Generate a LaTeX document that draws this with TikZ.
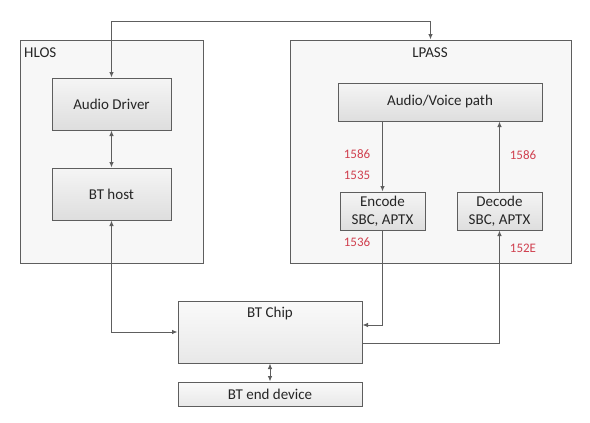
\documentclass[tikz,border=0pt]{standalone}
\usepackage{fontspec}
\setmainfont{Carlito}
\usetikzlibrary{arrows.meta,calc}
\definecolor{edge}{HTML}{5E5E5E}
\definecolor{redtxt}{HTML}{D0404F}
\definecolor{txt}{HTML}{262626}
\tikzset{
  outerbox/.style={draw=edge, line width=1pt, fill=black!3, inner sep=0pt},
  innerbox/.style={draw=edge, line width=1pt, top color=black!4, bottom color=black!13, inner sep=0pt, align=center, text=txt, font=\fontsize{15}{18}\selectfont},
  conn/.style={draw=edge, line width=0.9pt, arrows={-}},
  tip/.style={-{Latex[length=5.5pt,width=4.5pt]}},
  tips/.style={{Latex[length=5.5pt,width=4.5pt]}-{Latex[length=5.5pt,width=4.5pt]}},
  lbl/.style={font=\fontsize{15}{18}\selectfont, text=txt, inner sep=0pt},
  num/.style={font=\fontsize{13}{15}\selectfont, text=redtxt, inner sep=0pt}
}
\begin{document}
\begin{tikzpicture}[x=1pt,y=-1pt]
\useasboundingbox (0,0) rectangle (590,423);
% outer boxes
\node[outerbox, minimum width=183pt, minimum height=223pt] (hlos) at (111.5,151.5) {};
\node[outerbox, minimum width=281pt, minimum height=223pt] (lpass) at (430.5,151.5) {};
\node[lbl, anchor=west] (hlostxt) at (24,53) {HLOS};
\node[lbl] (lpasstxt) at (430,53) {LPASS};
% inner boxes
\node[innerbox, minimum width=119pt, minimum height=52pt] (drv) at (111.5,104) {Audio Driver};
\node[innerbox, minimum width=119pt, minimum height=52pt] (host) at (111.5,194) {BT host};
\node[innerbox, minimum width=204pt, minimum height=38pt] (avp) at (440,102) {Audio/Voice path};
\node[innerbox, minimum width=85pt, minimum height=38pt] (enc) at (382.5,211) {Encode\\SBC, APTX};
\node[innerbox, minimum width=85pt, minimum height=38pt] (dec) at (499.5,211) {Decode\\SBC, APTX};
\node[innerbox, minimum width=184pt, minimum height=62pt, top color=black!2, bottom color=black!9] (chip) at (270,332) {};
\node[lbl] (chiptxt) at (270,313) {BT Chip};
\node[innerbox, minimum width=184pt, minimum height=24pt, top color=black!2, bottom color=black!9] (endd) at (270,394) {BT end device};
% red numbers
\node[num] (n1) at (357,154) {1586};
\node[num] (n2) at (357,175) {1535};
\node[num] (n3) at (357,242) {1536};
\node[num] (n4) at (523,155) {1586};
\node[num] (n5) at (523,248) {152E};
% helper coordinates
\coordinate (topy) at (0,21);
\coordinate (ey) at (0,325);
\coordinate (dy) at (0,343);
% connectors
\draw[conn, tips] (drv.north) -- (drv.north |- topy) -| (lpass.north);
\draw[conn, tips] (drv.south) -- (host.north);
\draw[conn, tip] (enc.north |- avp.south) -- (enc.north);
\draw[conn, tip] (dec.north) -- (dec.north |- avp.south);
\draw[conn, tips] (host.south) |- (chip.west);
\draw[conn, tip] (enc.south) |- (chip.east |- ey);
\draw[conn, tip] (chip.east |- dy) -| (dec.south);
\draw[conn, tips] (chip.south) -- (endd.north);
\end{tikzpicture}
\end{document}
